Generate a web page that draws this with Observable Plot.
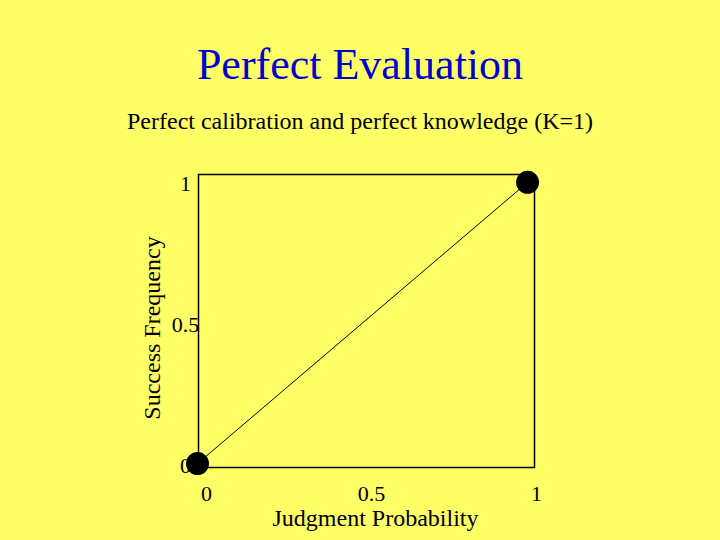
<!DOCTYPE html>
<html>
<head>
<meta charset="utf-8">
<script src="https://cdn.jsdelivr.net/npm/d3@7"></script>
<script src="https://cdn.jsdelivr.net/npm/@observablehq/plot@0.6"></script>
<style>
  html, body { margin: 0; padding: 0; background: #ffff66; }
  #wrap { position: relative; width: 720px; height: 540px; background: #ffff66; overflow: hidden; font-family: "Liberation Serif", "Times New Roman", serif; }
  #title { position: absolute; left: 0; width: 720px; top: 43px; text-align: center; font-size: 44px; line-height: 44px; color: #0000cc; }
  #subtitle { position: absolute; left: 0; width: 720px; top: 109px; text-align: center; font-size: 24px; line-height: 24px; color: #000; }
  #chart { position: absolute; left: 0; top: 150px; }
</style>
</head>
<body>
<div id="wrap">
  <div id="title"></div>
  <div id="subtitle"></div>
  <div id="chart"></div>
</div>
<script>
const titleText = "Perfect Evaluation";
const subtitleText = "Perfect calibration and perfect knowledge (K=1)";
const xLabel = "Judgment Probability";
const yLabel = "Success Frequency";
const judgment = [0, 1];
const success = [0, 1];
const xTicks = [0, 0.5, 1];
const yTicks = [0, 0.5, 1];
const xTickLabels = ["0", "0.5", "1"];
const yTickLabels = ["0", "0.5", "1"];

document.getElementById("title").textContent = titleText;
document.getElementById("subtitle").textContent = subtitleText;

const data = judgment.map((p, i) => ({p, f: success[i]}));

const chart = Plot.plot({
  width: 720,
  height: 390,
  marginTop: 24,
  marginBottom: 73,
  marginLeft: 198,
  marginRight: 186,
  style: "background: transparent; font-family: 'Liberation Serif', 'Times New Roman', serif; font-size: 22px; color: black; overflow: visible;",
  x: {domain: [0.003, 1.021]},
  y: {domain: [-0.014, 1.028]},
  marks: [
    Plot.axisX({ticks: xTicks, tickFormat: d => xTickLabels[xTicks.indexOf(d)], tickSize: 0, tickPadding: 18, dx: 9, label: null, fontSize: 22}),
    Plot.axisY({ticks: yTicks, tickFormat: d => yTickLabels[yTicks.indexOf(d)], tickSize: 0, tickPadding: 13, textAnchor: "middle", dy: 2, label: null, fontSize: 22}),
    Plot.frame({stroke: "black", strokeWidth: 1.5}),
    Plot.line(data, {x: "p", y: "f", stroke: "black", strokeWidth: 1}),
    Plot.dot(data, {x: "p", y: "f", r: 11.5, fill: "black", stroke: "none"}),
    Plot.text([xLabel], {text: d => d, frameAnchor: "bottom", textAnchor: "middle", dy: 51, dx: 9, lineAnchor: "middle", fontSize: 24, fill: "black"}),
    Plot.text([yLabel], {text: d => d, frameAnchor: "left", textAnchor: "middle", rotate: -90, dx: -46, dy: 7, lineAnchor: "middle", fontSize: 24, fill: "black"})
  ]
});
document.getElementById("chart").appendChild(chart);
</script>
</body>
</html>
